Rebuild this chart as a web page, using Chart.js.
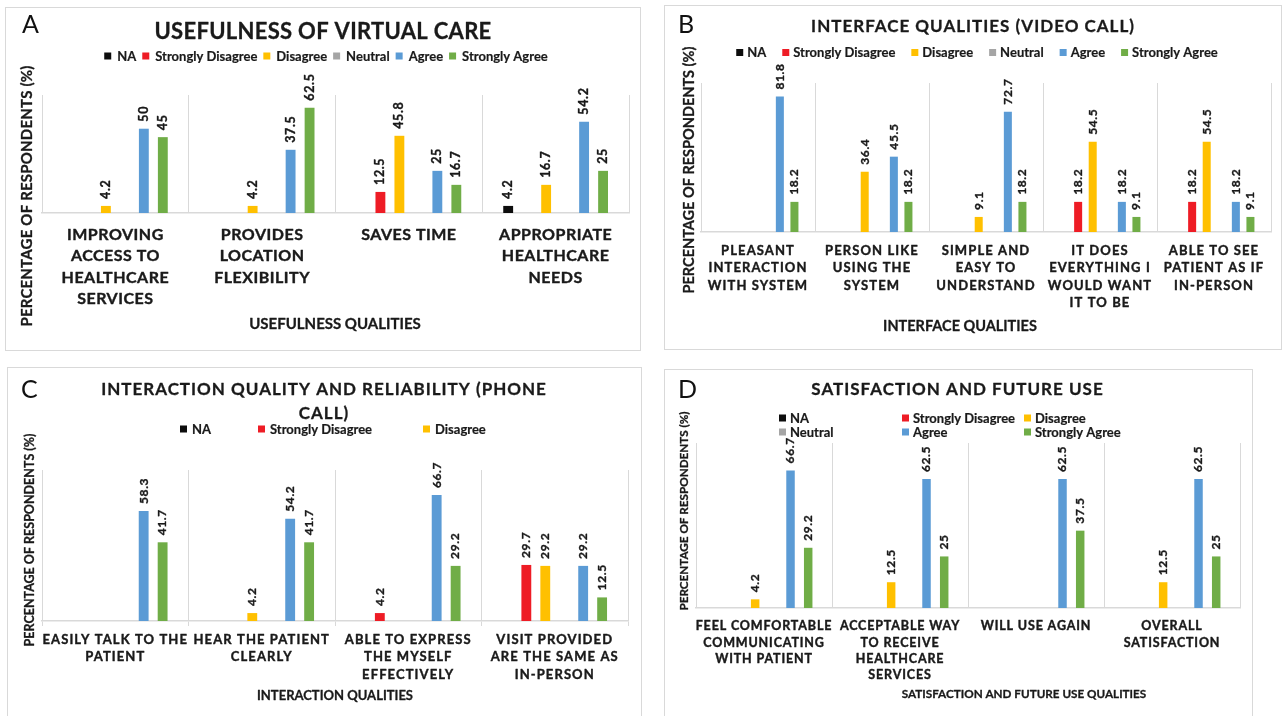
<!DOCTYPE html>
<html>
<head>
<meta charset="utf-8">
<script src="https://cdn.jsdelivr.net/npm/chart.js@4.4.1/dist/chart.umd.min.js"></script>
<style>
  html, body { margin: 0; padding: 0; background: #fff; }
  body { width: 1283px; height: 716px; position: relative; overflow: hidden; font-family: Lato, sans-serif; }
  .panel { position: absolute; border: 1px solid #d9d9d9; box-sizing: border-box; background: #fff; }
  .panel canvas { position: absolute; left: 0; top: 0; }
</style>
</head>
<body>
<div class="panel" style="left:5px;top:7px;width:636px;height:344px"><canvas id="cA" width="634" height="342"></canvas></div>
<div class="panel" style="left:664px;top:5px;width:618px;height:345px"><canvas id="cB" width="616" height="343"></canvas></div>
<div class="panel" style="left:7px;top:367px;width:635px;height:360px"><canvas id="cC" width="633" height="358"></canvas></div>
<div class="panel" style="left:664px;top:369px;width:589px;height:360px"><canvas id="cD" width="587" height="358"></canvas></div>

<script>
// Response levels shared by every panel
const LEVELS = ['NA', 'Strongly Disagree', 'Disagree', 'Neutral', 'Agree', 'Strongly Agree'];
const LEVEL_COLORS = ['#0d0d0d', '#ee1c25', '#ffc000', '#a5a5a5', '#5b9bd5', '#70ad47'];

// A: usefulness of virtual care
const usefulnessLabels = [
  ['IMPROVING', 'ACCESS TO', 'HEALTHCARE', 'SERVICES'],
  ['PROVIDES', 'LOCATION', 'FLEXIBILITY'],
  ['SAVES TIME'],
  ['APPROPRIATE', 'HEALTHCARE', 'NEEDS']
];
const usefulnessNA = [null, null, null, 4.2];
const usefulnessStronglyDisagree = [null, null, 12.5, null];
const usefulnessDisagree = [4.2, 4.2, 45.8, 16.7];
const usefulnessNeutral = [null, null, null, null];
const usefulnessAgree = [50, 37.5, 25, 54.2];
const usefulnessStronglyAgree = [45, 62.5, 16.7, 25];

// B: interface qualities (video call)
const interfaceLabels = [
  ['PLEASANT', 'INTERACTION', 'WITH SYSTEM'],
  ['PERSON LIKE', 'USING THE', 'SYSTEM'],
  ['SIMPLE AND', 'EASY TO', 'UNDERSTAND'],
  ['IT DOES', 'EVERYTHING I', 'WOULD WANT', 'IT TO BE'],
  ['ABLE TO SEE', 'PATIENT AS IF', 'IN-PERSON']
];
const interfaceNA = [null, null, null, null, null];
const interfaceStronglyDisagree = [null, null, null, 18.2, 18.2];
const interfaceDisagree = [null, 36.4, 9.1, 54.5, 54.5];
const interfaceNeutral = [null, null, null, null, null];
const interfaceAgree = [81.8, 45.5, 72.7, 18.2, 18.2];
const interfaceStronglyAgree = [18.2, 18.2, 18.2, 9.1, 9.1];

// C: interaction quality and reliability (phone call)
const interactionLabels = [
  ['EASILY TALK TO THE', 'PATIENT'],
  ['HEAR THE PATIENT', 'CLEARLY'],
  ['ABLE TO EXPRESS', 'THE MYSELF', 'EFFECTIVELY'],
  ['VISIT PROVIDED', 'ARE THE SAME AS', 'IN-PERSON']
];
const interactionNA = [null, null, null, null];
const interactionStronglyDisagree = [null, null, 4.2, 29.7];
const interactionDisagree = [null, 4.2, null, 29.2];
const interactionNeutral = [null, null, null, null];
const interactionAgree = [58.3, 54.2, 66.7, 29.2];
const interactionStronglyAgree = [41.7, 41.7, 29.2, 12.5];

// D: satisfaction and future use
const satisfactionLabels = [
  ['FEEL COMFORTABLE', 'COMMUNICATING', 'WITH PATIENT'],
  ['ACCEPTABLE WAY', 'TO RECEIVE', 'HEALTHCARE', 'SERVICES'],
  ['WILL USE AGAIN'],
  ['OVERALL', 'SATISFACTION']
];
const satisfactionNA = [null, null, null, null];
const satisfactionStronglyDisagree = [null, null, null, null];
const satisfactionDisagree = [4.2, 12.5, null, 12.5];
const satisfactionNeutral = [null, null, null, null];
const satisfactionAgree = [66.7, 62.5, 62.5, 62.5];
const satisfactionStronglyAgree = [29.2, 25, 37.5, 25];

const Y_TITLE = 'PERCENTAGE OF RESPONDENTS (%)';
const TEXT = '#1a1a1a';

function drawText(ctx, text, x, y, o) {
  ctx.save();
  ctx.font = o.font;
  ctx.fillStyle = o.color || TEXT;
  ctx.textAlign = o.align || 'center';
  ctx.textBaseline = o.baseline || 'middle';
  if ('letterSpacing' in ctx) ctx.letterSpacing = (o.spacing || 0) + 'px';
  ctx.translate(x, y);
  if (o.rotate) ctx.rotate(o.rotate);
  ctx.fillText(text, 0, 0);
  if (o.stroke) {
    ctx.strokeStyle = o.color || TEXT;
    ctx.lineWidth = o.stroke;
    ctx.lineJoin = 'round';
    ctx.strokeText(text, 0, 0);
  }
  ctx.restore();
}

function textWidth(ctx, text, font) {
  ctx.save();
  ctx.font = font;
  if ('letterSpacing' in ctx) ctx.letterSpacing = '0px';
  const w = ctx.measureText(text).width;
  ctx.restore();
  return w;
}

// Draws value labels, category labels, titles and the legend for one panel
function decoPlugin(cfg) {
  return {
    id: 'deco',
    afterDatasetsDraw(chart) {
      const ctx = chart.ctx;
      chart.data.datasets.forEach((ds, di) => {
        const meta = chart.getDatasetMeta(di);
        meta.data.forEach((bar, i) => {
          const v = ds.data[i];
          if (v === null || v === undefined) return;
          drawText(ctx, String(v), bar.x, bar.y - cfg.value.gap,
            { font: cfg.value.font, spacing: cfg.value.spacing, align: 'left', rotate: -Math.PI / 2, stroke: 0.35 });
        });
      });
    },
    afterDraw(chart) {
      const ctx = chart.ctx;
      const xs = chart.scales.x;
      const area = chart.chartArea;

      // category labels under each group
      chart.data.labels.forEach((lines, i) => {
        const px = xs.getPixelForTick(i);
        lines.forEach((ln, k) => {
          drawText(ctx, ln, px, area.bottom + cfg.cat.offset + k * cfg.cat.line,
            { font: cfg.cat.font, spacing: cfg.cat.spacing, stroke: 0.4 });
        });
      });

      // panel letter
      drawText(ctx, cfg.letter.text, cfg.letter.x, cfg.letter.y,
        { font: '400 25px Lato', align: 'left', baseline: 'alphabetic', color: '#111' });

      // chart title
      cfg.title.lines.forEach((ln, k) => {
        drawText(ctx, ln, cfg.title.x, cfg.title.y + k * (cfg.title.line || 0),
          { font: cfg.title.font, spacing: cfg.title.spacing, stroke: 0.3 });
      });

      // axis titles
      drawText(ctx, Y_TITLE, cfg.yTitle.x, cfg.yTitle.y,
        { font: cfg.yTitle.font, spacing: cfg.yTitle.spacing, rotate: -Math.PI / 2, stroke: 0.3 });
      drawText(ctx, cfg.xTitle.text, cfg.xTitle.x, cfg.xTitle.y,
        { font: cfg.xTitle.font, spacing: cfg.xTitle.spacing, stroke: 0.3 });

      // legend
      const lg = cfg.legend;
      const box = lg.box;
      let items = lg.items;
      if (lg.flow) {
        const widths = lg.flow.indices.map(i => box + lg.gap + textWidth(ctx, LEVELS[i], lg.font));
        const total = widths.reduce((a, b) => a + b, 0) + lg.flow.itemGap * (widths.length - 1);
        let x = lg.flow.cx - total / 2;
        items = lg.flow.indices.map((i, k) => {
          const it = { i: i, x: x, y: lg.flow.y };
          x += widths[k] + lg.flow.itemGap;
          return it;
        });
      }
      items.forEach(it => {
        ctx.save();
        ctx.fillStyle = LEVEL_COLORS[it.i];
        ctx.fillRect(it.x, it.y - box / 2, box, box);
        ctx.restore();
        drawText(ctx, LEVELS[it.i], it.x + box + lg.gap, it.y + 0.5,
          { font: lg.font, align: 'left', spacing: 0, stroke: 0.2 });
      });
    }
  };
}

function makePanel(canvasId, labels, series, cfg) {
  const datasets = series.map((vals, i) => ({
    label: LEVELS[i],
    data: vals,
    backgroundColor: LEVEL_COLORS[i],
    borderWidth: 0,
    categoryPercentage: cfg.categoryPercentage,
    barPercentage: cfg.barPercentage
  }));
  return new Chart(document.getElementById(canvasId), {
    type: 'bar',
    data: { labels: labels, datasets: datasets },
    options: {
      responsive: false,
      devicePixelRatio: 1,
      animation: false,
      layout: { padding: cfg.padding },
      plugins: { legend: { display: false }, tooltip: { enabled: false }, title: { display: false } },
      scales: {
        x: {
          grid: {
            offset: true,
            color: '#d9d9d9',
            lineWidth: 1,
            drawTicks: !!cfg.tickLength,
            tickLength: cfg.tickLength || 0
          },
          border: { display: true, color: '#d9d9d9', width: 1.5 },
          ticks: { display: false }
        },
        y: { display: false, min: 0, max: cfg.yMax }
      }
    },
    plugins: [decoPlugin(cfg)]
  });
}

makePanel('cA', usefulnessLabels,
  [usefulnessNA, usefulnessStronglyDisagree, usefulnessDisagree, usefulnessNeutral, usefulnessAgree, usefulnessStronglyAgree], {
  padding: { left: 36, right: 11, top: 87, bottom: 137 },
  yMax: 70, categoryPercentage: 0.776, barPercentage: 0.52,
  letter: { text: 'A', x: 16, y: 25 },
  title: { lines: ['USEFULNESS OF VIRTUAL CARE'], x: 317, y: 24, font: 'bold 22px Lato', spacing: 0.3 },
  legend: { font: 'bold 13px Lato', box: 7, gap: 6, flow: { indices: [0, 1, 2, 3, 4, 5], cx: 320, y: 48, itemGap: 6 } },
  yTitle: { x: 21, y: 188, font: 'bold 15px Lato', spacing: 0.2 },
  xTitle: { text: 'USEFULNESS QUALITIES', x: 329, y: 316, font: 'bold 15px Lato', spacing: 0 },
  cat: { font: 'bold 16px Lato', spacing: 0.5, offset: 22, line: 21.3 },
  value: { font: 'bold 12.5px Lato', spacing: 0.6, gap: 7 }
});

makePanel('cB', interfaceLabels,
  [interfaceNA, interfaceStronglyDisagree, interfaceDisagree, interfaceNeutral, interfaceAgree, interfaceStronglyAgree], {
  padding: { left: 36, right: 10, top: 77, bottom: 117 },
  yMax: 90, categoryPercentage: 0.767, barPercentage: 0.55,
  letter: { text: 'B', x: 13, y: 27 },
  title: { lines: ['INTERFACE QUALITIES (VIDEO CALL)'], x: 308, y: 20.5, font: 'bold 17px Lato', spacing: 1 },
  legend: { font: 'bold 13px Lato', box: 7, gap: 4, flow: { indices: [0, 1, 2, 3, 4, 5], cx: 312, y: 46.5, itemGap: 16 } },
  yTitle: { x: 24, y: 164, font: 'bold 14.5px Lato', spacing: 0 },
  xTitle: { text: 'INTERFACE QUALITIES', x: 295, y: 320, font: 'bold 14.5px Lato', spacing: 0 },
  cat: { font: 'bold 13px Lato', spacing: 1.1, offset: 19, line: 17.3 },
  value: { font: 'bold 12px Lato', spacing: 0.6, gap: 7 }
});

makePanel('cC', interactionLabels,
  [interactionNA, interactionStronglyDisagree, interactionDisagree, interactionNeutral, interactionAgree, interactionStronglyAgree], {
  padding: { left: 34, right: 13, top: 102, bottom: 100 },
  yMax: 80, categoryPercentage: 0.776, barPercentage: 0.52, tickLength: 5,
  letter: { text: 'C', x: 13, y: 30 },
  title: { lines: ['INTERACTION QUALITY AND RELIABILITY (PHONE', 'CALL)'], x: 316, y: 21.5, line: 24, font: 'bold 17px Lato', spacing: 1 },
  legend: { font: 'bold 13px Lato', box: 7, gap: 5, items: [ { i: 0, x: 172, y: 61 }, { i: 1, x: 250, y: 61 }, { i: 2, x: 415, y: 61 } ] },
  yTitle: { x: 21.6, y: 172, font: 'bold 12.5px Lato', spacing: 0 },
  xTitle: { text: 'INTERACTION QUALITIES', x: 327, y: 328, font: 'bold 13px Lato', spacing: 0 },
  cat: { font: 'bold 13px Lato', spacing: 1.1, offset: 19, line: 17.3 },
  value: { font: 'bold 12px Lato', spacing: 0.6, gap: 7 }
});

makePanel('cD', satisfactionLabels,
  [satisfactionNA, satisfactionStronglyDisagree, satisfactionDisagree, satisfactionNeutral, satisfactionAgree, satisfactionStronglyAgree], {
  padding: { left: 31, right: 12, top: 73, bottom: 120 },
  yMax: 80, categoryPercentage: 0.78, barPercentage: 0.48,
  letter: { text: 'D', x: 13, y: 28 },
  title: { lines: ['SATISFACTION AND FUTURE USE'], x: 292.5, y: 19.5, font: 'bold 17px Lato', spacing: 1 },
  legend: { font: 'bold 13px Lato', box: 7, gap: 4, items: [
    { i: 0, x: 114, y: 48 }, { i: 1, x: 237, y: 48 }, { i: 2, x: 359, y: 48 },
    { i: 3, x: 114, y: 62 }, { i: 4, x: 237, y: 62 }, { i: 5, x: 359, y: 62 } ] },
  yTitle: { x: 19, y: 141, font: 'bold 11.7px Lato', spacing: 0 },
  xTitle: { text: 'SATISFACTION AND FUTURE USE QUALITIES', x: 359, y: 324.5, font: 'bold 11.7px Lato', spacing: 0 },
  cat: { font: 'bold 12.5px Lato', spacing: 0.85, offset: 18.4, line: 16.3 },
  value: { font: 'bold 12px Lato', spacing: 0.6, gap: 7 }
});
</script>
</body>
</html>
